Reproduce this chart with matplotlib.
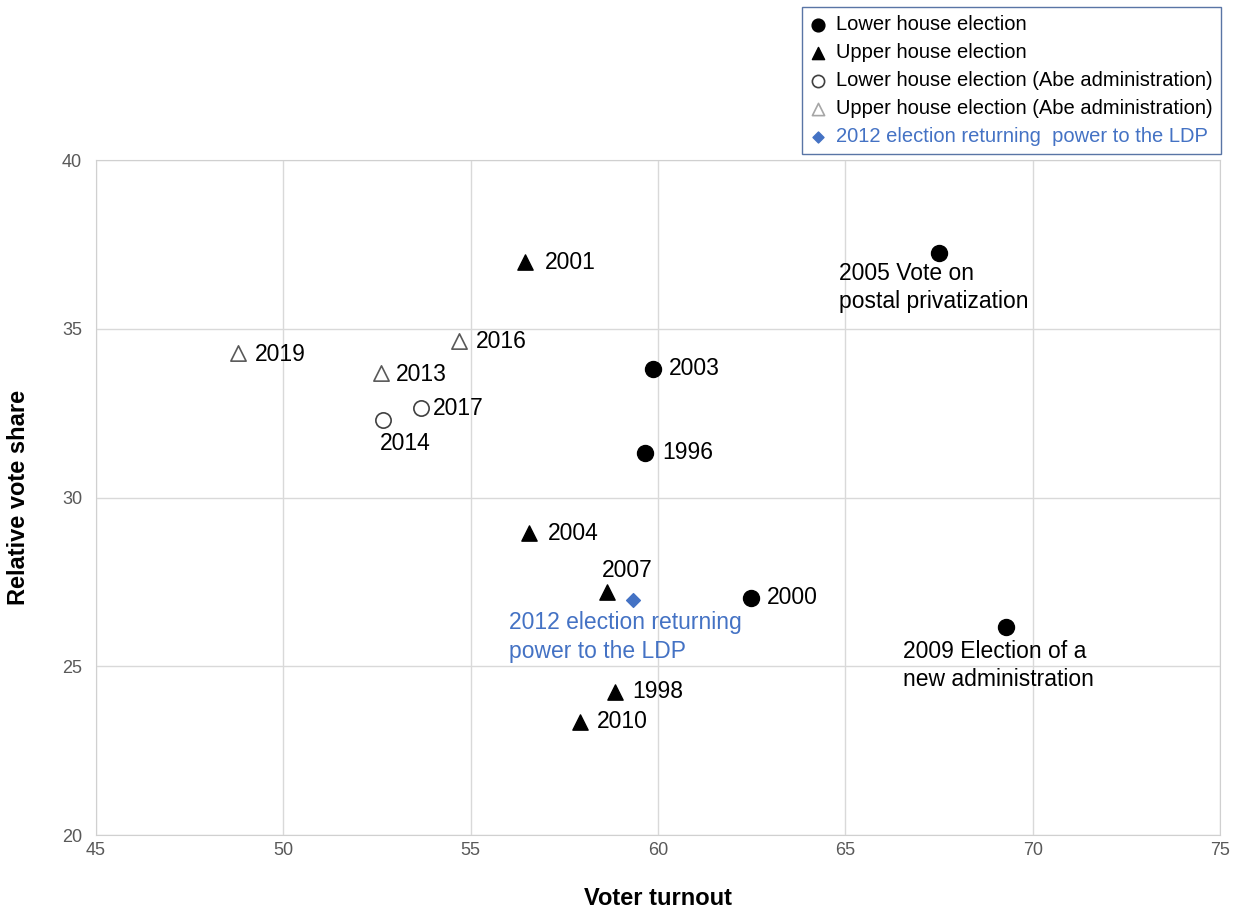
#!/usr/bin/env python3
"""
Voter turnout vs. relative vote share, by election.
"""

import matplotlib.pyplot as plt

# Lower house elections
lower_years = ["1996", "2000", "2003", "2005", "2009"]
lower_turnout = [59.65, 62.49, 59.86, 67.51, 69.28]
lower_share = [31.32, 27.03, 33.81, 37.25, 26.17]

# Upper house elections
upper_years = ["1998", "2001", "2004", "2007", "2010"]
upper_turnout = [58.84, 56.44, 56.57, 58.64, 57.92]
upper_share = [24.24, 36.98, 28.96, 27.21, 23.35]

# Abe administration, lower house
abe_lower_years = ["2014", "2017"]
abe_lower_turnout = [52.66, 53.68]
abe_lower_share = [32.30, 32.64]

# Abe administration, upper house
abe_upper_years = ["2013", "2016", "2019"]
abe_upper_turnout = [52.61, 54.70, 48.80]
abe_upper_share = [33.68, 34.65, 34.27]

# 2012 election
ldp_turnout = [59.32]
ldp_share = [26.96]

labels = {
    "2005": "2005 Vote on\npostal privatization",
    "2009": "2009 Election of a\nnew administration",
    "2012": "2012 election returning\npower to the LDP",
}

legend_labels = [
    "Lower house election",
    "Upper house election",
    "Lower house election (Abe administration)",
    "Upper house election (Abe administration)",
    "2012 election returning  power to the LDP",
]

BLUE = "#4472c4"
FONT = ["Liberation Sans", "DejaVu Sans"]

# label offsets in pixels: (dx, dy, ha, va)
offsets = {
    "1996": (17, 0, "left", "center"),
    "2000": (16, 0, "left", "center"),
    "2003": (16, 0, "left", "center"),
    "2005": (-100, -9, "left", "top"),
    "2009": (-103, -13, "left", "top"),
    "1998": (18, 0, "left", "center"),
    "2001": (20, -1, "left", "center"),
    "2004": (18, -1, "left", "center"),
    "2007": (20, 21, "center", "center"),
    "2010": (17, 0, "left", "center"),
    "2014": (22, -24, "center", "center"),
    "2017": (12, 0, "left", "center"),
    "2013": (15, -1, "left", "center"),
    "2016": (16, -1, "left", "center"),
    "2019": (17, -1, "left", "center"),
    "2012": (-124, -11, "left", "top"),
}


def label_points(ax, years, xs, ys, color="black"):
    for yr, x, y in zip(years, xs, ys):
        dx, dy, ha, va = offsets[yr]
        ax.annotate(labels.get(yr, yr), (x, y), xytext=(dx, dy),
                    textcoords="offset pixels", ha=ha, va=va,
                    fontsize=16.5, color=color, family=FONT, linespacing=1.3)


def main():
    fig = plt.figure(figsize=(12.37, 9.13), dpi=100)
    ax = fig.add_axes([96 / 1237, 78 / 913, 1124 / 1237, 675 / 913])

    h1 = ax.scatter(lower_turnout, lower_share, marker="o", s=11.5 ** 2,
                    color="black", zorder=3, label=legend_labels[0])
    h2 = ax.scatter(upper_turnout, upper_share, marker="^", s=11 ** 2,
                    color="black", zorder=3, label=legend_labels[1])
    h3 = ax.scatter(abe_lower_turnout, abe_lower_share, marker="o", s=11 ** 2,
                    facecolor="white", edgecolor="#404040", linewidth=1.2,
                    zorder=3, label=legend_labels[2])
    h4 = ax.scatter(abe_upper_turnout, abe_upper_share, marker="^", s=11 ** 2,
                    facecolor="white", edgecolor="#595959", linewidth=1.2,
                    zorder=3, label=legend_labels[3])
    h5 = ax.scatter(ldp_turnout, ldp_share, marker="D", s=7 ** 2,
                    color=BLUE, zorder=3, label=legend_labels[4])

    label_points(ax, lower_years, lower_turnout, lower_share)
    label_points(ax, upper_years, upper_turnout, upper_share)
    label_points(ax, abe_lower_years, abe_lower_turnout, abe_lower_share)
    label_points(ax, abe_upper_years, abe_upper_turnout, abe_upper_share)
    label_points(ax, ["2012"], ldp_turnout, ldp_share, color=BLUE)

    ax.set_xlim(45, 75)
    ax.set_ylim(20, 40)
    ax.set_xticks(range(45, 76, 5))
    ax.set_yticks(range(20, 41, 5))
    ax.grid(True, color="#d9d9d9", linewidth=1)
    ax.set_axisbelow(True)
    for sp in ax.spines.values():
        sp.set_color("#d0d0d0")
    ax.tick_params(length=0, labelsize=13, labelcolor="#595959")
    ax.tick_params(axis="x", pad=5)
    ax.tick_params(axis="y", pad=10)
    for lab in ax.get_xticklabels() + ax.get_yticklabels():
        lab.set_family(FONT)

    ax.set_xlabel("Voter turnout", fontsize=17, fontweight="bold",
                  family=FONT, labelpad=20)
    ax.set_ylabel("Relative vote share", fontsize=17, fontweight="bold",
                  family=FONT, labelpad=23)

    leg = fig.legend(handles=[h1, h2, h3, h4, h5], loc="upper right",
                     bbox_to_anchor=(1221 / 1237, 1 - 7 / 913),
                     prop={"family": FONT, "size": 14.5}, frameon=True,
                     fancybox=False, edgecolor="#2f528f", markerscale=0.8,
                     handlelength=0.8, handletextpad=0.5, labelspacing=0.45,
                     borderpad=0.4, borderaxespad=0)
    leg.get_frame().set_linewidth(1)
    leg.legend_handles[3].set_edgecolor("#a6a6a6")
    leg.get_texts()[4].set_color(BLUE)

    plt.savefig("out.png", dpi=100)


if __name__ == "__main__":
    main()
